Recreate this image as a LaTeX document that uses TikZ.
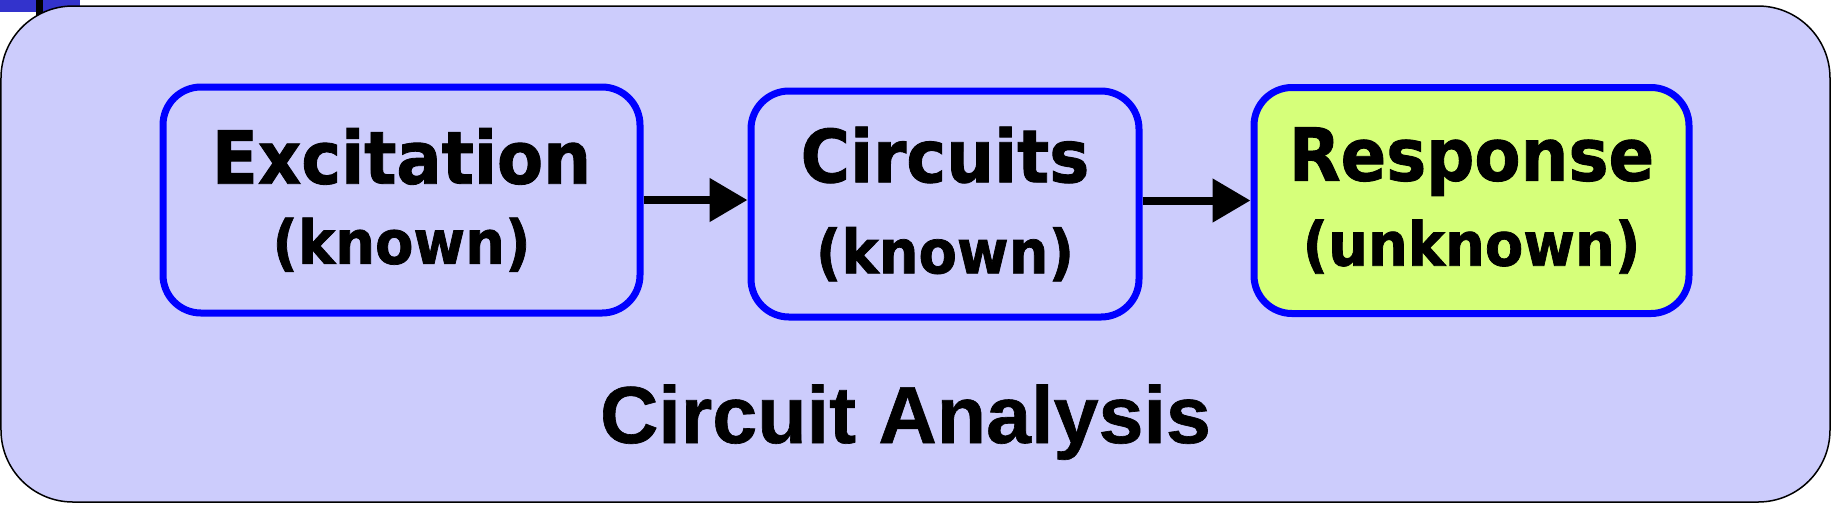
\documentclass[tikz,border=0pt]{standalone}
\usepackage{fontspec}
\newfontfamily\stagefont[FakeStretch=0.92,BoldFeatures={FakeBold=1.2}]{DejaVu Sans}
\newfontfamily\titlefont[BoldFeatures={FakeBold=0.8}]{Liberation Sans}
\usetikzlibrary{arrows.meta,positioning}
\definecolor{panel}{RGB}{204,204,252}
\definecolor{edge}{RGB}{0,0,255}
\definecolor{unknownfill}{RGB}{214,255,122}
\definecolor{slidebar}{RGB}{51,51,204}

\begin{document}
\begin{tikzpicture}[
stage/.style={rectangle,draw=edge,line width=0.07cm,rounded corners=0.38cm,
  fill=panel,align=center,inner sep=0pt,minimum height=2.26cm,
  font=\stagefont\bfseries\fontsize{20.8}{22.8}\selectfont},
flow/.style={line width=0.08cm,-{Triangle[length=0.38cm,width=0.42cm]}}]
\useasboundingbox (0,0) rectangle (18.32,-5.10);
% bits of the slide behind the panel
\fill[slidebar] (0,0) rectangle (0.80,-0.12);
\fill[black] (0.36,0) rectangle (0.43,-0.20);
\draw[fill=panel,line width=0.015cm,rounded corners=0.72cm] (0.01,-0.06) rectangle (18.30,-5.02);
\node[stage,minimum width=4.77cm] (A1) at (4.015,-2.00)
  {Excitation\\{\fontsize{17.3}{22.8}\selectfont (known)}};
\node[stage,minimum width=3.88cm] (A2) at (9.45,-2.04)
  {Circuits\\[3.1pt]{\fontsize{17.3}{22.8}\selectfont (known)}};
\node[stage,minimum width=4.35cm,fill=unknownfill] (A3) at (14.715,-2.005)
  {Response\\[1.4pt]{\fontsize{17.3}{22.8}\selectfont (unknown)}};
\node[font=\titlefont\bfseries\fontsize{23}{27}\selectfont,anchor=base] (T) at (9.055,-4.43) {Circuit Analysis};
\draw[flow] (A1.east) -- (A1.east -| A2.west);
\draw[flow] (A3.west -| A2.east) -- (A3.west);
\end{tikzpicture}
\end{document}
